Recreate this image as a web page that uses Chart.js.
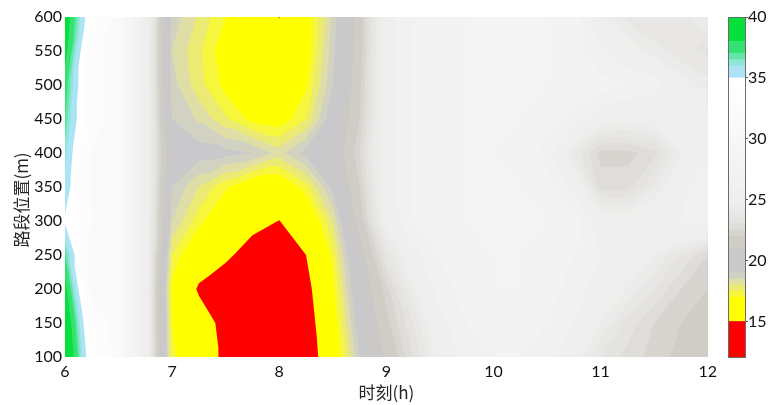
<!DOCTYPE html>
<html>
<head>
<meta charset="utf-8">
<script src="https://cdn.jsdelivr.net/npm/chart.js@4/dist/chart.umd.min.js"></script>
<style>
  html, body { margin: 0; padding: 0; background: #fff; }
  #wrap { position: relative; width: 768px; height: 405px; overflow: hidden; background: #fff; }
  #main { position: absolute; left: 0; top: 0; }
  #bar { position: absolute; left: 722px; top: 0; }
</style>
</head>
<body>
<div id="wrap">
  <canvas id="main" width="722" height="405"></canvas>
  <canvas id="bar" width="46" height="405"></canvas>
</div>
<script>
// Grid: time of day (h) along x, road position (m) along y, speed in each cell
const hours = [6, 6.25, 6.5, 6.75, 7, 7.25, 7.5, 7.75, 8, 8.25, 8.5, 8.75, 9,
               9.25, 9.5, 9.75, 10, 10.25, 10.5, 10.75, 11, 11.25, 11.5, 11.75, 12];
const positions = [100, 150, 200, 250, 300, 350, 400, 450, 500, 550, 600];

const speed100 = [40, 33.7, 31.5, 25.5, 17.2, 15.8, 14.7, 13, 12.5, 14.0, 16.2, 19, 21.2, 23, 25, 26.5, 27, 27, 26.5, 25, 23.5, 22.8, 22.3, 21.8, 21.5];
const speed150 = [39.5, 33, 31.5, 25.5, 17, 15.8, 14.5, 13, 12.8, 14.2, 16.5, 19.5, 21.8, 23.5, 25.5, 27, 27.5, 27.5, 27, 26, 24.5, 23.3, 22.5, 22, 21.5];
const speed200 = [38.5, 31.5, 31.5, 25.5, 16.8, 14.8, 14.0, 13.2, 13.0, 14.5, 16.8, 20, 22.3, 24.5, 26.5, 27.5, 28, 28, 27.5, 26.5, 25.5, 24.5, 23.5, 22.5, 22];
const speed250 = [37, 31.5, 31.5, 25.5, 17.5, 16.0, 15.3, 14.3, 13.8, 15.0, 17.2, 20.5, 23.5, 25.5, 27, 27.5, 28, 28, 27.8, 27, 26, 25.2, 24.5, 23.5, 22.5];
const speed300 = [34.8, 32, 31.5, 25.5, 18.5, 17.2, 16.2, 15.5, 14.97, 16.0, 18.0, 21.5, 25, 27, 27.5, 28, 28, 28, 28, 27.5, 25.2, 25, 25.5, 26, 26.5];
const speed350 = [35.8, 31.8, 31.5, 25.5, 19, 18, 17.1, 16.3, 16.2, 17.3, 19.2, 22, 25.5, 27, 27.5, 28, 28, 28, 27.5, 25.5, 22.8, 22.8, 24, 25.5, 27];
const speed400 = [36.2, 31.9, 31.5, 25.5, 19.5, 19.3, 19.2, 19.0, 18.3, 19.2, 20, 22.5, 25.5, 27, 27.5, 28, 28, 27.8, 26.5, 24, 22.3, 22.3, 22.8, 24.5, 25.5];
const speed450 = [37, 32.5, 31.5, 25.5, 19, 18.4, 17.6, 16.8, 16.6, 17.5, 19.5, 22, 25.5, 27, 27.5, 28, 28, 28, 27.5, 26.5, 25, 24.8, 25, 26, 25.5];
const speed500 = [37.5, 32.5, 31.5, 25.5, 18.7, 17.7, 16.8, 16.2, 16.0, 16.9, 19, 21.8, 25.5, 27, 27.5, 28, 28, 28, 28, 27.8, 27.5, 27, 26.5, 25, 24.2];
const speed550 = [38.5, 32.5, 31.5, 25.5, 18.5, 17.6, 16.6, 16, 15.6, 16.6, 18.8, 21.6, 25.5, 27, 27.5, 28, 28, 28, 28, 27.5, 26, 25, 24.2, 23.6, 23.4];
const speed600 = [39, 33.7, 31.5, 25.5, 18.8, 17.9, 17.0, 15.8, 14.97, 16.6, 18.6, 21.5, 25.5, 27, 27.5, 28, 28, 28, 28, 27.5, 25, 23.8, 23.6, 23.8, 24.6];

const speedRows = [speed100, speed150, speed200, speed250, speed300, speed350,
                   speed400, speed450, speed500, speed550, speed600];

// Tick labels
const hourTicks = [6, 7, 8, 9, 10, 11, 12];
const positionTicks = [100, 150, 200, 250, 300, 350, 400, 450, 500, 550, 600];
const colorTicks = [15, 20, 25, 30, 35, 40];

// Contour band edges and the colour of each band
const levelEdges = [12, 15, 17, 17.5, 18, 18.5, 19, 20, 21, 22, 22.5, 23, 23.5, 24, 24.5,
                    25, 26, 27, 28, 29, 30, 31, 32, 33, 34, 35, 36, 36.5, 37, 38, 40.5];
const bandColors = ['#ff0000', '#ffff00', '#f6f63c', '#ebeb74', '#dedea6', '#d2d2c2',
                    '#c9c9cb', '#cbc9c8', '#d0ccc6', '#d8d5d0', '#dfddd9', '#e4e3e0',
                    '#e8e7e5', '#ebebea', '#eeeeed', '#efefef', '#f1f1f1', '#f3f3f3',
                    '#f4f4f4', '#f6f6f6', '#f8f8f8', '#fafafa', '#fcfcfc', '#fdfdfd',
                    '#ffffff', '#ace4f6', '#8ee6d6', '#64e6aa', '#34e272', '#06e03a'];
const cbMin = 12, cbMax = 40;

const tickFont = { family: 'Lato', size: 16 };
const captionFont = { family: '"Noto Sans CJK SC"', size: 17 };

// Keep the part of a triangle (vertices [x, y, v]) where v >= t
function clipAbove(poly, t) {
  const out = [];
  for (let i = 0; i < poly.length; i++) {
    const a = poly[i], b = poly[(i + 1) % poly.length];
    const ina = a[2] >= t, inb = b[2] >= t;
    if (ina) out.push(a);
    if (ina !== inb) {
      const f = (t - a[2]) / (b[2] - a[2]);
      out.push([a[0] + f * (b[0] - a[0]), a[1] + f * (b[1] - a[1]), t]);
    }
  }
  return out;
}

function buildTriangles() {
  const tris = [];
  for (let j = 0; j < positions.length - 1; j++) {
    for (let i = 0; i < hours.length - 1; i++) {
      const p00 = [hours[i], positions[j], speedRows[j][i]];
      const p10 = [hours[i + 1], positions[j], speedRows[j][i + 1]];
      const p11 = [hours[i + 1], positions[j + 1], speedRows[j + 1][i + 1]];
      const p01 = [hours[i], positions[j + 1], speedRows[j + 1][i]];
      if (Math.abs(p00[2] - p11[2]) <= Math.abs(p10[2] - p01[2])) {
        tris.push([p00, p10, p11], [p00, p11, p01]);
      } else {
        tris.push([p00, p10, p01], [p10, p11, p01]);
      }
    }
  }
  return tris;
}

// Filled contour bands, painted from the lowest level upwards
const contourFill = {
  id: 'contourFill',
  beforeDatasetsDraw(chart) {
    const { ctx, chartArea: a } = chart;
    const xs = chart.scales.x, ys = chart.scales.y;
    const tris = buildTriangles();
    ctx.save();
    ctx.beginPath();
    ctx.rect(a.left, a.top, a.width, a.height);
    ctx.clip();
    for (let k = 0; k < bandColors.length; k++) {
      ctx.beginPath();
      for (const t of tris) {
        const poly = clipAbove(t, levelEdges[k]);
        if (poly.length < 3) continue;
        poly.forEach((p, n) => {
          const px = xs.getPixelForValue(p[0]);
          const py = ys.getPixelForValue(p[1]);
          if (n === 0) ctx.moveTo(px, py); else ctx.lineTo(px, py);
        });
        ctx.closePath();
      }
      ctx.fillStyle = bandColors[k];
      ctx.fill();
    }
    ctx.restore();
  }
};

// Rotated caption for the position axis
const yCaption = {
  id: 'yCaption',
  afterDraw(chart) {
    const { ctx, chartArea: a } = chart;
    ctx.save();
    ctx.translate(22, (a.top + a.bottom) / 2 + 13);
    ctx.rotate(-Math.PI / 2);
    ctx.textAlign = 'center';
    ctx.textBaseline = 'middle';
    ctx.fillStyle = '#262626';
    ctx.font = '17px "Noto Sans CJK SC"';
    ctx.fillText('路段位置(m)', 0, 0);
    ctx.restore();
  }
};

new Chart(document.getElementById('main'), {
  type: 'scatter',
  data: { datasets: [] },
  options: {
    responsive: false,
    animation: false,
    devicePixelRatio: 1,
    layout: { padding: { top: 17, right: 10, left: 0, bottom: 0 } },
    plugins: { legend: { display: false }, tooltip: { enabled: false } },
    scales: {
      x: {
        type: 'linear', min: 6, max: 12,
        afterBuildTicks: s => { s.ticks = hourTicks.map(v => ({ value: v })); },
        grid: { display: false, drawTicks: false },
        border: { display: false },
        ticks: { padding: 5, color: '#111', font: tickFont, maxRotation: 0, autoSkip: false },
        title: { display: true, text: '时刻(h)', color: '#262626', font: captionFont, padding: { top: 0, bottom: 2 } },
        afterFit: s => { s.height = 48; }
      },
      y: {
        type: 'linear', min: 100, max: 600,
        afterBuildTicks: s => { s.ticks = positionTicks.map(v => ({ value: v })); },
        grid: { display: false, drawTicks: false },
        border: { display: false },
        ticks: { padding: 3, color: '#111', font: tickFont, autoSkip: false },
        afterFit: s => { s.width = 65; }
      }
    }
  },
  plugins: [contourFill, yCaption]
});

// Colour bar frame
const barFrame = {
  id: 'barFrame',
  afterDatasetsDraw(chart) {
    const { ctx, chartArea: a } = chart;
    ctx.save();
    ctx.strokeStyle = '#6b6b6b';
    ctx.lineWidth = 1;
    ctx.strokeRect(a.left + 0.5, a.top + 0.5, a.width - 1, a.height - 1);
    ctx.restore();
  }
};

new Chart(document.getElementById('bar'), {
  type: 'bar',
  data: {
    labels: [''],
    datasets: bandColors.map((c, k) => ({
      data: [[levelEdges[k], Math.min(levelEdges[k + 1], cbMax)]],
      backgroundColor: c,
      borderWidth: 0,
      barPercentage: 1,
      categoryPercentage: 1,
      grouped: false
    }))
  },
  options: {
    responsive: false,
    animation: false,
    devicePixelRatio: 1,
    layout: { padding: { left: 6, top: 17, bottom: 47, right: 0 } },
    plugins: { legend: { display: false }, tooltip: { enabled: false } },
    scales: {
      x: { display: false },
      y: {
        position: 'right', min: cbMin, max: cbMax,
        afterBuildTicks: s => { s.ticks = colorTicks.map(v => ({ value: v })); },
        grid: { display: true, drawOnChartArea: false, drawTicks: true, tickLength: 2, color: '#555' },
        border: { display: false },
        ticks: { padding: 0, color: '#111', font: tickFont, autoSkip: false },
        afterFit: s => { s.width = 22; }
      }
    }
  },
  plugins: [barFrame]
});
</script>
</body>
</html>
